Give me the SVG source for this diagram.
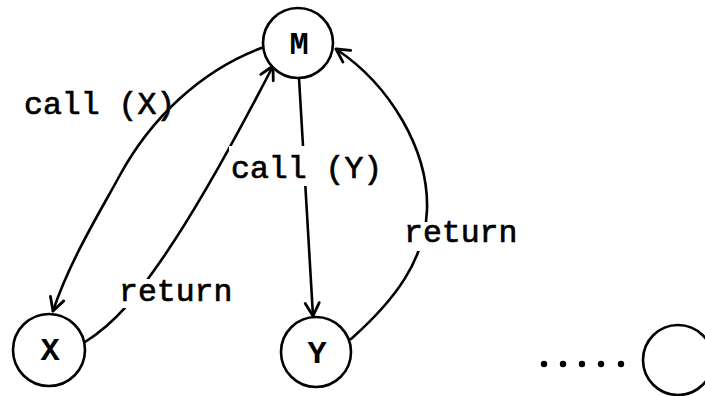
<svg xmlns="http://www.w3.org/2000/svg" width="705" height="396" viewBox="0 0 705 396">
  <style>
    .node circle { fill: #fff; stroke: #000; stroke-width: 2.6; }
    .node text { font-family: "Liberation Mono", "DejaVu Sans Mono", monospace; font-size: 32px; font-weight: bold; text-anchor: middle; fill: #000; }
    .edge { fill: none; stroke: #000; stroke-width: 2.6; stroke-linecap: round; }
    .gap { fill: #fff; }
    .lbl { font-family: "Liberation Mono", "DejaVu Sans Mono", monospace; font-size: 31.5px; fill: #000; stroke: #000; stroke-width: 0.7px; }
    .dot { fill: #000; }
  </style>
  <defs>
    <marker id="arrow" markerUnits="userSpaceOnUse" markerWidth="20" markerHeight="20" viewBox="-16 -10 20 20" refX="0" refY="0" orient="auto">
      <path d="M-13,-7 L0,0 L-13,7" fill="none" stroke="#000" stroke-width="2.8" stroke-linecap="round" stroke-linejoin="round"/>
    </marker>
  </defs>

  <g id="connectors">
    <!-- M calls X -->
    <path class="edge" d="M264,47 C200,70 150,120 120,175 C100,212 70,260 53,311" marker-end="url(#arrow)"/>
    <!-- X returns to M -->
    <path class="edge" d="M85,342 C120,320 140,290 160,262 C200,205 240,130 273,66" marker-end="url(#arrow)"/>
    <!-- M calls Y -->
    <path class="edge" d="M299,78 L313,316" marker-end="url(#arrow)"/>
    <!-- Y returns to M -->
    <path class="edge" d="M351,339 C395,300 425,260 427,210 C429,150 390,85 336,49" marker-end="url(#arrow)"/>
  </g>

  <g id="labels">
    <!-- white backing breaks the connector where a label sits on it -->
    <rect class="gap" x="117" y="279" width="116" height="29"/>
    <rect class="gap" x="229" y="146" width="150" height="40"/>
    <rect class="gap" x="402" y="222" width="114" height="29"/>
    <text class="lbl" x="24" y="114">call (X)</text>
    <text class="lbl" x="119" y="301">return</text>
    <text class="lbl" x="231" y="178">call (Y)</text>
    <text class="lbl" x="404" y="242">return</text>
  </g>

  <g id="node-M" class="node">
    <circle cx="298" cy="43" r="35"/>
    <text x="299" y="54">M</text>
  </g>
  <g id="node-X" class="node">
    <circle cx="49" cy="350" r="36"/>
    <text x="50" y="360">X</text>
  </g>
  <g id="node-Y" class="node">
    <circle cx="316" cy="352" r="35"/>
    <text x="317" y="363">Y</text>
  </g>
  <g id="node-more" class="node">
    <circle cx="678" cy="360" r="35"/>
  </g>

  <g id="ellipsis">
    <circle class="dot" cx="544" cy="364" r="3.2"/>
    <circle class="dot" cx="563" cy="364" r="3.2"/>
    <circle class="dot" cx="582" cy="364" r="3.2"/>
    <circle class="dot" cx="601" cy="364" r="3.2"/>
    <circle class="dot" cx="621" cy="364" r="3.2"/>
  </g>
</svg>
